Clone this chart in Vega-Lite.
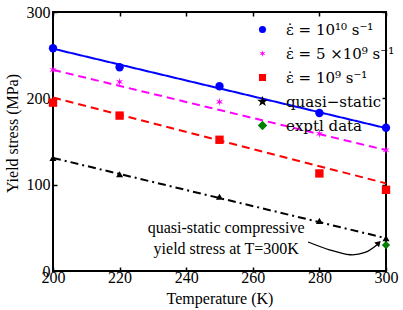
{
  "$schema": "https://vega.github.io/schema/vega-lite/v6.json",
  "autosize": {"type": "none"},
  "width": 333,
  "height": 259,
  "padding": {"left": 53, "top": 12, "right": 17, "bottom": 39},
  "config": {
    "font": "Liberation Serif",
    "view": {"stroke": "black", "strokeWidth": 2},
    "axis": {"labelFont": "Liberation Serif", "titleFont": "Liberation Serif", "labelColor": "black", "titleColor": "black", "labelFontSize": 16, "titleFontSize": 16, "titleFontWeight": "normal", "grid": false, "domain": false, "tickColor": "black", "tickWidth": 1.5, "tickSize": 4, "offset": -4, "labelFlush": false, "labelOverlap": false}
  },
  "datasets": {
    "pts": [
      {"series": "ε̇ = 10¹⁰ s⁻¹", "T": 200, "Y": 258},
      {"series": "ε̇ = 10¹⁰ s⁻¹", "T": 220, "Y": 236},
      {"series": "ε̇ = 10¹⁰ s⁻¹", "T": 250, "Y": 214},
      {"series": "ε̇ = 10¹⁰ s⁻¹", "T": 280, "Y": 183},
      {"series": "ε̇ = 10¹⁰ s⁻¹", "T": 300, "Y": 166},
      {"series": "ε̇ = 5 ×10⁹ s⁻¹", "T": 200, "Y": 233},
      {"series": "ε̇ = 5 ×10⁹ s⁻¹", "T": 220, "Y": 219},
      {"series": "ε̇ = 5 ×10⁹ s⁻¹", "T": 250, "Y": 196},
      {"series": "ε̇ = 5 ×10⁹ s⁻¹", "T": 280, "Y": 159},
      {"series": "ε̇ = 5 ×10⁹ s⁻¹", "T": 300, "Y": 140},
      {"series": "ε̇ = 10⁹ s⁻¹", "T": 200, "Y": 195},
      {"series": "ε̇ = 10⁹ s⁻¹", "T": 220, "Y": 180},
      {"series": "ε̇ = 10⁹ s⁻¹", "T": 250, "Y": 152},
      {"series": "ε̇ = 10⁹ s⁻¹", "T": 280, "Y": 113},
      {"series": "ε̇ = 10⁹ s⁻¹", "T": 300, "Y": 94},
      {"series": "quasi−static", "T": 200, "Y": 131},
      {"series": "quasi−static", "T": 220, "Y": 112},
      {"series": "quasi−static", "T": 250, "Y": 86},
      {"series": "quasi−static", "T": 280, "Y": 58},
      {"series": "quasi−static", "T": 300, "Y": 38},
      {"series": "exptl data", "T": 300, "Y": 30}
    ],
    "fits": [
      {"series": "ε̇ = 10¹⁰ s⁻¹", "T": 200, "Y": 257.5},
      {"series": "ε̇ = 10¹⁰ s⁻¹", "T": 300, "Y": 165.5},
      {"series": "ε̇ = 5 ×10⁹ s⁻¹", "T": 200, "Y": 233},
      {"series": "ε̇ = 5 ×10⁹ s⁻¹", "T": 300, "Y": 140},
      {"series": "ε̇ = 10⁹ s⁻¹", "T": 200, "Y": 201},
      {"series": "ε̇ = 10⁹ s⁻¹", "T": 300, "Y": 101.5},
      {"series": "quasi−static", "T": 200, "Y": 131},
      {"series": "quasi−static", "T": 300, "Y": 38}
    ],
    "arrow": [
      {"T": 276.6, "Y": 33.6},
      {"T": 283.2, "Y": 24.3},
      {"T": 289.2, "Y": 18.8},
      {"T": 293.7, "Y": 21.5},
      {"T": 297.3, "Y": 30.5}
    ],
    "head": [{"T": 297.8, "Y": 32.5}],
    "notes": [
      {"T": 252, "Y": 50, "text": "quasi-static compressive"},
      {"T": 252, "Y": 25.5, "text": "yield stress at T=300K"}
    ]
  },
  "resolve": {"scale": {"x": "independent", "y": "independent"}},
  "layer": [
    {
      "data": {"name": "fits"},
      "mark": {"type": "line", "strokeWidth": 2},
      "encoding": {
        "x": {"field": "T", "type": "quantitative", "scale": {"domain": [200, 300], "nice": false, "zero": false}, "axis": {"orient": "top", "labels": false, "title": null, "values": [200, 220, 240, 260, 280, 300]}},
        "y": {"field": "Y", "type": "quantitative", "scale": {"domain": [0, 300], "nice": false}, "axis": {"orient": "right", "labels": false, "title": null, "values": [0, 100, 200, 300]}},
        "stroke": {"field": "series", "type": "nominal", "legend": null, "scale": {"domain": ["ε̇ = 10¹⁰ s⁻¹", "ε̇ = 5 ×10⁹ s⁻¹", "ε̇ = 10⁹ s⁻¹", "quasi−static"], "range": ["#0000ff", "#ff00ff", "#ff0000", "#000000"]}},
        "strokeDash": {"field": "series", "type": "nominal", "legend": null, "scale": {"domain": ["ε̇ = 10¹⁰ s⁻¹", "ε̇ = 5 ×10⁹ s⁻¹", "ε̇ = 10⁹ s⁻¹", "quasi−static"], "range": [[1, 0], [8, 5], [8, 5], [8, 4, 2, 4]]}}
      }
    },
    {
      "encoding": {
        "x": {"field": "T", "type": "quantitative", "scale": {"domain": [200, 300], "nice": false, "zero": false}, "axis": {"orient": "bottom", "title": "Temperature (K)", "values": [200, 220, 240, 260, 280, 300], "labelPadding": -2, "titlePadding": 5}},
        "y": {"field": "Y", "type": "quantitative", "scale": {"domain": [0, 300], "nice": false}, "axis": {"orient": "left", "title": "Yield stress (MPa)", "values": [0, 100, 200, 300], "labelPadding": 3, "titlePadding": 6, "titleY": 121}}
      },
      "layer": [
        {
          "data": {"name": "pts"},
          "transform": [{"filter": "datum.series !== 'quasi−static'"}],
          "mark": {"type": "point", "filled": true, "opacity": 1, "size": 70},
          "encoding": {
            "color": {"field": "series", "type": "nominal", "title": null,
              "scale": {"domain": ["ε̇ = 10¹⁰ s⁻¹", "ε̇ = 5 ×10⁹ s⁻¹", "ε̇ = 10⁹ s⁻¹", "quasi−static", "exptl data"], "range": ["#0000ff", "#ff00ff", "#ff0000", "#000000", "#007f00"]},
              "legend": {"orient": "none", "legendX": 202, "legendY": 10, "padding": 0, "labelFont": "DejaVu Serif", "labelFontSize": 15, "labelColor": "black", "symbolSize": 50, "labelOffset": 16, "rowPadding": 8, "symbolOpacity": 1,
                "encode": {"symbols": {"update": {"size": {"signal": "datum.value === 'quasi−static' ? 130 : datum.value === 'exptl data' ? 90 : 50"}}}}}},
            "shape": {"field": "series", "type": "nominal", "title": null,
              "scale": {"domain": ["ε̇ = 10¹⁰ s⁻¹", "ε̇ = 5 ×10⁹ s⁻¹", "ε̇ = 10⁹ s⁻¹", "quasi−static", "exptl data"], "range": ["circle", "M0,-1L0.16,-0.277L0.866,-0.5L0.32,0L0.866,0.5L0.16,0.277L0,1L-0.16,0.277L-0.866,0.5L-0.32,0L-0.866,-0.5L-0.16,-0.277Z", "square", "M0,-1L0.225,-0.309L0.951,-0.309L0.363,0.118L0.588,0.809L0,0.382L-0.588,0.809L-0.363,0.118L-0.951,-0.309L-0.225,-0.309Z", "diamond"]}}
          }
        },
        {
          "data": {"name": "pts"},
          "transform": [{"filter": "datum.series === 'quasi−static'"}],
          "mark": {"type": "point", "shape": "triangle-up", "filled": true, "color": "black", "opacity": 1, "size": 50},
          "encoding": {}
        },
        {
          "data": {"name": "arrow"},
          "mark": {"type": "line", "color": "black", "strokeWidth": 1.3, "interpolate": "cardinal"},
          "encoding": {}
        },
        {
          "data": {"name": "head"},
          "mark": {"type": "point", "shape": "triangle-up", "filled": true, "color": "black", "opacity": 1, "size": 45, "angle": 45},
          "encoding": {}
        },
        {
          "data": {"name": "notes"},
          "mark": {"type": "text", "font": "Liberation Serif", "fontSize": 16, "color": "black", "align": "center", "baseline": "middle"},
          "encoding": {
            "text": {"field": "text"}
          }
        }
      ]
    }
  ]
}
